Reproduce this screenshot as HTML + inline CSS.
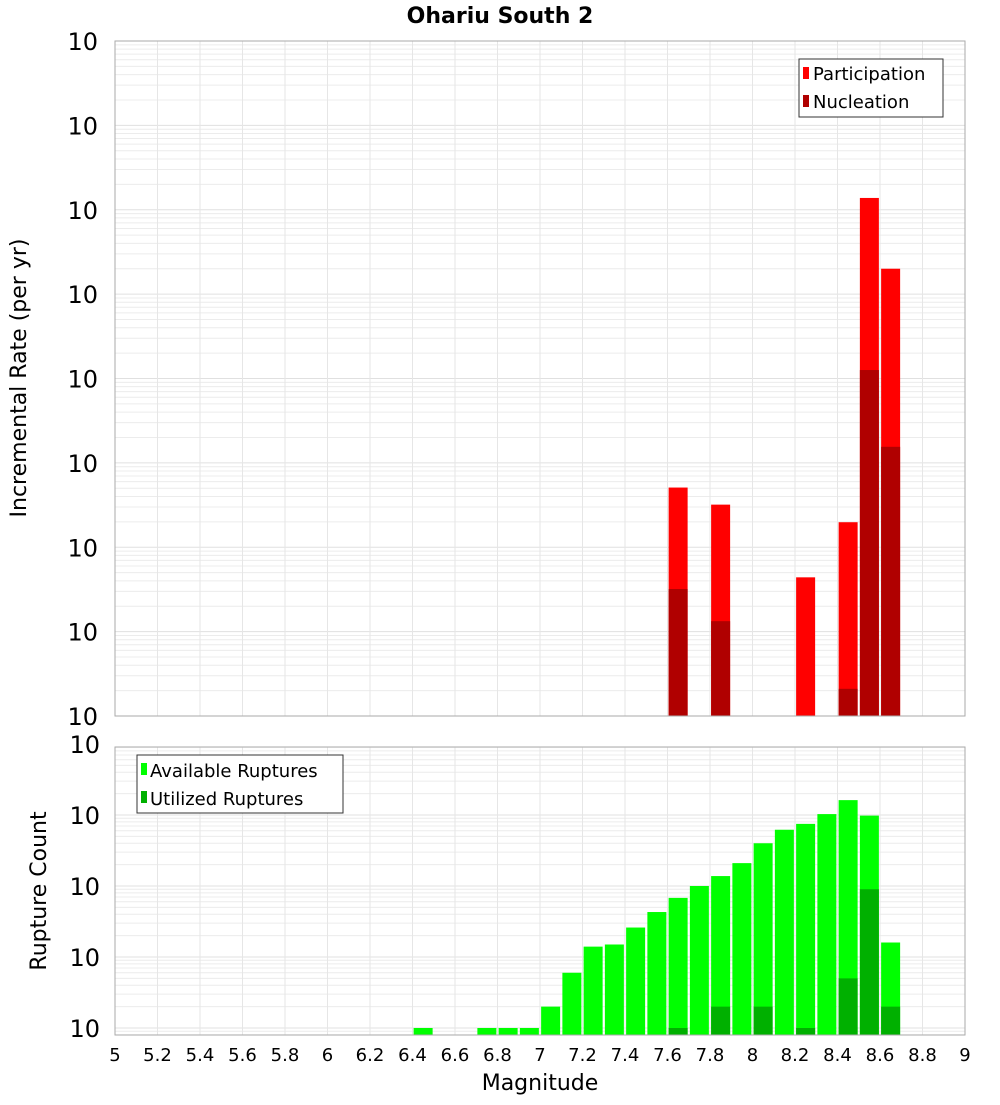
<!DOCTYPE html>
<html><head><meta charset="utf-8"><style>
body{margin:0;background:#fff;}
svg{font-family:"DejaVu Sans","Liberation Sans",sans-serif;}
</style></head><body>
<svg id="chart" width="1000" height="1100" xmlns="http://www.w3.org/2000/svg">
<text x="500" y="23" text-anchor="middle" font-size="22" font-weight="bold">Ohariu South 2</text>
<g id="top"></g><g id="bot"></g>
<text transform="translate(26,378) rotate(-90)" text-anchor="middle" font-size="22">Incremental Rate (per yr)</text>
<text transform="translate(46,891) rotate(-90)" text-anchor="middle" font-size="22">Rupture Count</text>
<text x="540" y="1090" text-anchor="middle" font-size="22">Magnitude</text>
<g>
<rect x="799" y="59" width="144" height="58" fill="#fff" stroke="#333"/>
<rect x="803" y="67" width="6" height="12" fill="#ff0000"/>
<text x="813" y="80" font-size="18">Participation</text>
<rect x="803" y="95" width="6" height="12" fill="#b00000"/>
<text x="813" y="108" font-size="18">Nucleation</text>
</g>
<g>
<rect x="137" y="755" width="206" height="58" fill="#fff" stroke="#333"/>
<rect x="141" y="763" width="6" height="12" fill="#00ff00"/>
<text x="150" y="777" font-size="18">Available Ruptures</text>
<rect x="141" y="791" width="6" height="12" fill="#00b000"/>
<text x="150" y="805" font-size="18">Utilized Ruptures</text>
</g>
</svg>
<script>
const rateMags=[7.65,7.85,8.25,8.45,8.55,8.65];
const participation=[5.1e-8,3.2e-8,4.4e-9,1.98e-8,1.38e-4,2.0e-5];
const nucleation=[3.2e-9,1.33e-9,0,2.1e-10,1.26e-6,1.55e-7];
const countMags=[6.45,6.75,6.85,6.95,7.05,7.15,7.25,7.35,7.45,7.55,7.65,7.75,7.85,7.95,8.05,8.15,8.25,8.35,8.45,8.55,8.65];
const available=[1,1,1,1,2,6,14,15,26,43,68,100,138,210,400,620,750,1030,1620,980,16];
const utilized=[0,0,0,0,0,0,0,0,0,0,1,0,2,0,2,0,1,0,5,90,2];
const xTicks=[5,5.2,5.4,5.6,5.8,6,6.2,6.4,6.6,6.8,7,7.2,7.4,7.6,7.8,8,8.2,8.4,8.6,8.8,9];
const topExp=[-2,-3,-4,-5,-6,-7,-8,-9,-10];
const botExp=[4,3,2,1,0];
const NS='http://www.w3.org/2000/svg';
const X0=115,X1=965;
const x=m=>X0+(m-5)*(X1-X0)/4;
const yT=v=>41+(-2-Math.log10(v))*84.375;
const yB=v=>1028-71*Math.log10(v);
function el(p,t,a){const e=document.createElementNS(NS,t);for(const k in a)e.setAttribute(k,a[k]);p.appendChild(e);return e;}
function panel(g,top,bottom,yf,emin,emax,exps,name){
  el(g,'rect',{x:X0,y:top,width:X1-X0,height:bottom-top,fill:'#fff'});
  for(let e=emin;e<emax;e++)for(let k=1;k<10;k++){const yy=yf(k*Math.pow(10,e));if(yy<top||yy>bottom)continue;
    const l=el(g,'line',{x1:X0,x2:X1,y1:yy,y2:yy,stroke:k==1?'#e0e0e0':'#ececec','stroke-width':1});
    }
  xTicks.forEach(t=>{const l=el(g,'line',{x1:x(t),x2:x(t),y1:top,y2:bottom,stroke:'#e6e6e6'});
    });
  exps.forEach(e=>{const yy=yf(Math.pow(10,e));const t=el(g,'text',{x:105,y:yy+9,'text-anchor':'end','font-size':24});
    
    t.textContent='10';const s=el(g,'tspan',{dy:-14,'font-size':15});s.textContent=String(e);
    t.setAttribute('x',e<0?98:100);});
}
const gT=document.getElementById('top'),gB=document.getElementById('bot');
panel(gT,41,716,yT,-10,-2,topExp,'rate');
panel(gB,747,1035,yB,-1,4,botExp,'count');
const bw=19;
rateMags.forEach((m,i)=>{
  let r=el(gT,'rect',{x:x(m)-bw/2,y:yT(participation[i]),width:bw,height:716-yT(participation[i]),fill:'#ff0000'});
  
  if(nucleation[i]>0){const yy=Math.min(716,yT(nucleation[i]));
  r=el(gT,'rect',{x:x(m)-bw/2,y:yy,width:bw,height:716-yy,fill:'#b00000'});
  }
});
countMags.forEach((m,i)=>{
  let r=el(gB,'rect',{x:x(m)-bw/2,y:yB(available[i]),width:bw,height:1035-yB(available[i]),fill:'#00ff00'});
  
  if(utilized[i]>0){r=el(gB,'rect',{x:x(m)-bw/2,y:yB(utilized[i]),width:bw,height:1035-yB(utilized[i]),fill:'#00b000'});
  }
});
[[gT,41,716],[gB,747,1035]].forEach(([g,a,b])=>{const r=el(g,'rect',{x:X0,y:a,width:X1-X0,height:b-a,fill:'none',stroke:'#aaa'});
  });
xTicks.forEach(t=>{const tx=el(gB,'text',{x:x(t),y:1061,'text-anchor':'middle','font-size':18});
  tx.textContent=String(t);});
</script>
</body></html>
